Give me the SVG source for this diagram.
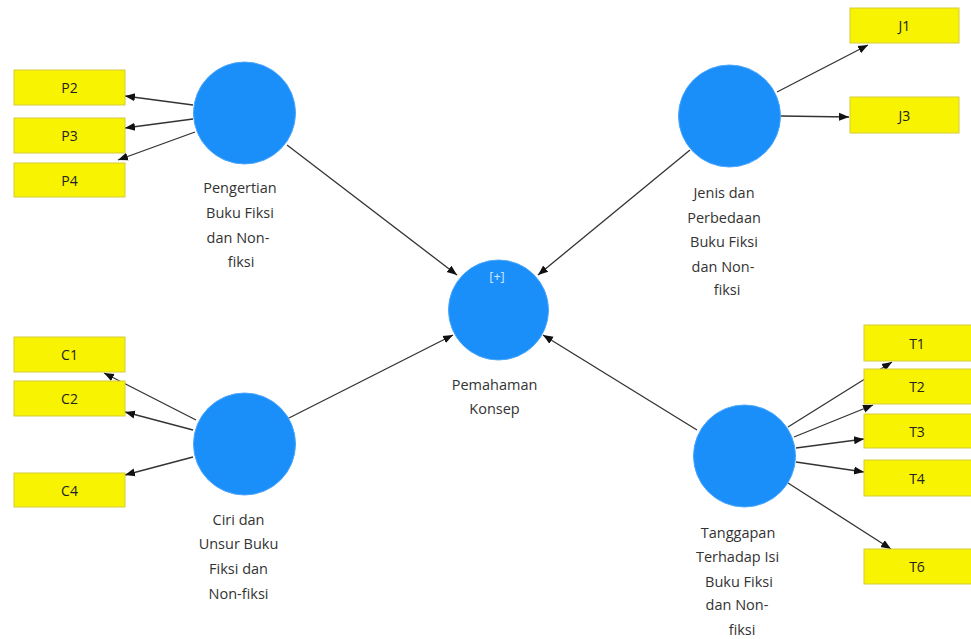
<svg xmlns="http://www.w3.org/2000/svg" width="971" height="639" viewBox="0 0 971 639">
<style>
.box{fill:#f8f300;stroke:#d6cc3a;stroke-width:1}
.lv{fill:#1a8ffa;stroke:#4aa6fb;stroke-width:1}
.bt{font-family:"Open Sans","Noto Sans",sans-serif;font-size:14px;fill:#222;text-anchor:middle}
.lt{font-family:"Open Sans","Noto Sans",sans-serif;font-size:14.5px;fill:#333;text-anchor:middle}
.pl{font-family:"Open Sans","Noto Sans",sans-serif;font-size:12.5px;fill:#d6e9ff;text-anchor:middle}
.c{stroke:#333;stroke-width:1.3;fill:none;marker-end:url(#ah)}
</style>
<defs>
<marker id="ah" markerUnits="userSpaceOnUse" markerWidth="10" markerHeight="10" viewBox="0 0 10 10" refX="10" refY="5" orient="auto">
<path d="M0,1 L10,5 L0,9 Z" fill="#111"/>
</marker>
</defs>
<rect width="971" height="639" fill="#fff"/>
<g id="connectors">
<line class="c" x1="193" y1="105" x2="125" y2="96"/>
<line class="c" x1="193" y1="119" x2="125" y2="128"/>
<line class="c" x1="195" y1="132" x2="118" y2="160"/>
<line class="c" x1="196" y1="420" x2="104" y2="373"/>
<line class="c" x1="193" y1="430" x2="125" y2="412"/>
<line class="c" x1="193" y1="457" x2="125" y2="475"/>
<line class="c" x1="777" y1="92" x2="868" y2="45"/>
<line class="c" x1="781" y1="116" x2="849" y2="117"/>
<line class="c" x1="788" y1="427" x2="892" y2="362"/>
<line class="c" x1="794" y1="437" x2="873" y2="405"/>
<line class="c" x1="796" y1="448" x2="864" y2="439"/>
<line class="c" x1="796" y1="462" x2="864" y2="472"/>
<line class="c" x1="788" y1="483" x2="891" y2="549"/>
<line class="c" x1="287" y1="145" x2="457" y2="275"/>
<line class="c" x1="690" y1="150" x2="538" y2="275"/>
<line class="c" x1="287" y1="419" x2="453" y2="335"/>
<line class="c" x1="697" y1="430" x2="543" y2="335"/>
</g>
<g id="P2"><rect class="box" x="14" y="70" width="111" height="35"/><text class="bt" x="69.5" y="92.5">P2</text></g>
<g id="P3"><rect class="box" x="14" y="118" width="111" height="35"/><text class="bt" x="69.5" y="140.5">P3</text></g>
<g id="P4"><rect class="box" x="14" y="163" width="111" height="34"/><text class="bt" x="69.5" y="185.5">P4</text></g>
<g id="C1"><rect class="box" x="14" y="337" width="111" height="35"/><text class="bt" x="69.5" y="359.5">C1</text></g>
<g id="C2"><rect class="box" x="14" y="381" width="111" height="35"/><text class="bt" x="69.5" y="403.5">C2</text></g>
<g id="C4"><rect class="box" x="14" y="473" width="111" height="34"/><text class="bt" x="69.5" y="495.5">C4</text></g>
<g id="J1"><rect class="box" x="850" y="8" width="109" height="35"/><text class="bt" x="904.5" y="30.5">J1</text></g>
<g id="J3"><rect class="box" x="850" y="97" width="109" height="36"/><text class="bt" x="904.5" y="120.5">J3</text></g>
<g id="T1"><rect class="box" x="864" y="325" width="110" height="36"/><text class="bt" x="917" y="348.5">T1</text></g>
<g id="T2"><rect class="box" x="864" y="369" width="110" height="35"/><text class="bt" x="917" y="391.5">T2</text></g>
<g id="T3"><rect class="box" x="864" y="414" width="110" height="34"/><text class="bt" x="917" y="436.5">T3</text></g>
<g id="T4"><rect class="box" x="864" y="460" width="110" height="36"/><text class="bt" x="917" y="483.5">T4</text></g>
<g id="T6"><rect class="box" x="864" y="549" width="110" height="35"/><text class="bt" x="917" y="571.5">T6</text></g>
<g id="Pengertian"><circle class="lv" cx="244.5" cy="113" r="51"/>
<text class="lt" x="240" y="193">Pengertian</text><text class="lt" x="240" y="218">Buku Fiksi</text><text class="lt" x="238" y="243">dan Non-</text><text class="lt" x="241" y="267">fiksi</text></g>
<g id="Ciri"><circle class="lv" cx="244.5" cy="444" r="51"/>
<text class="lt" x="238.5" y="525">Ciri dan</text><text class="lt" x="238.5" y="549">Unsur Buku</text><text class="lt" x="238.5" y="574">Fiksi dan</text><text class="lt" x="238.5" y="599">Non-fiksi</text></g>
<g id="Jenis"><circle class="lv" cx="729.5" cy="116" r="51"/>
<text class="lt" x="724" y="198">Jenis dan</text><text class="lt" x="724" y="223">Perbedaan</text><text class="lt" x="724" y="247">Buku Fiksi</text><text class="lt" x="723" y="272">dan Non-</text><text class="lt" x="727" y="295">fiksi</text></g>
<g id="Tanggapan"><circle class="lv" cx="744.5" cy="456" r="51"/>
<text class="lt" x="738" y="538">Tanggapan</text><text class="lt" x="737.5" y="562">Terhadap Isi</text><text class="lt" x="739" y="587">Buku Fiksi</text><text class="lt" x="737" y="610">dan Non-</text><text class="lt" x="742" y="635">fiksi</text></g>
<g id="Pemahaman"><circle class="lv" cx="498.5" cy="310" r="50"/>
<text class="pl" x="497" y="281">[+]</text>
<text class="lt" x="494.5" y="390">Pemahaman</text><text class="lt" x="494.5" y="414">Konsep</text></g>
</svg>
